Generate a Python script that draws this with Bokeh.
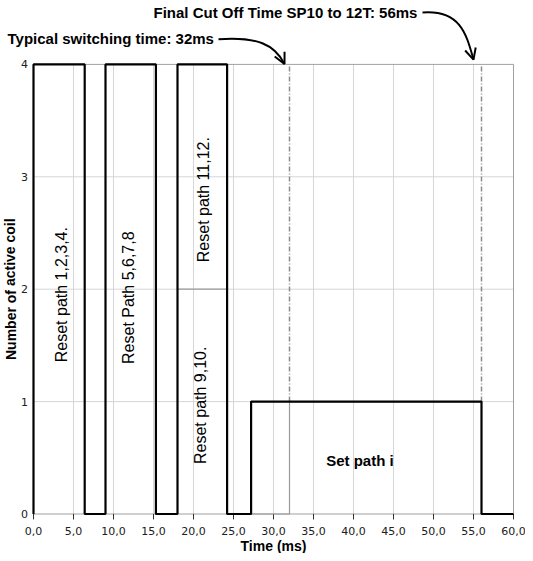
from bokeh.plotting import figure
from bokeh.models import Range1d, Label, Arrow, OpenHead
from bokeh.embed import file_html
from bokeh.resources import INLINE
from bokeh.core.properties import value

# ---- data ----
edge_times = [0.0, 0.0, 6.4, 9.0, 15.3, 18.0, 24.2, 27.2, 56.0, 60.0]
coil_levels = [0, 4, 0, 4, 0, 4, 0, 1, 0, 0]
typical_times = [18.0, 24.2, 32.0, 56.0]
typical_levels = [2, 0, 1, 1]
cutoff_times = [32.0, 56.0]
cutoff_low = [1, 1]
cutoff_high = [4, 4]
x_ticks = [0, 5, 10, 15, 20, 25, 30, 35, 40, 45, 50, 55, 60]
x_tick_labels = ["0,0", "5,0", "10,0", "15,0", "20,0", "25,0", "30,0",
                 "35,0", "40,0", "45,0", "50,0", "55,0", "60,0"]
y_ticks = [0, 1, 2, 3, 4]
y_tick_labels = ["0", "1", "2", "3", "4"]

SANS = value("Liberation Sans")
TICKF = value("DejaVu Sans")

# frame fills the whole canvas; axes are drawn through the data scales
p = figure(width=525, height=553, output_backend="svg", toolbar_location=None,
           x_range=Range1d(-4.125, 61.5), y_range=Range1d(-0.3514, 4.5685),
           x_axis_type=None, y_axis_type=None, min_border=0)
p.outline_line_color = None
p.background_fill_color = "white"
p.border_fill_color = "white"
p.grid.visible = False

x0, x1 = x_ticks[0], x_ticks[-1]
y0, y1 = y_ticks[0], y_ticks[-1]
GRID = "#d6d6d6"
FRAME = "#a0a0a0"

# grid lines
p.segment(x0=x_ticks[1:-1], y0=y0, x1=x_ticks[1:-1], y1=y1, line_color=GRID, line_width=1)
p.segment(x0=x0, y0=y_ticks[1:-1], x1=x1, y1=y_ticks[1:-1], line_color=GRID, line_width=1)
# frame
p.quad(left=x0, right=x1, bottom=y0, top=y1, fill_color=None, line_color=FRAME, line_width=1)

# x ticks and labels
p.segment(x0=x_ticks, y0=y0, x1=x_ticks, y1=-0.048, line_color="#303030", line_width=1)
p.text(x=x_ticks, y=-0.147, text=x_tick_labels, text_align="center",
       text_baseline="middle", text_font=TICKF, text_font_size="11px", text_color="#202020")
# y tick labels
p.text(x=-0.69, y=y_ticks, text=y_tick_labels, text_align="right",
       text_baseline="middle", text_font=TICKF, text_font_size="11px", text_color="#202020")

# axis titles
p.add_layout(Label(x=(x0 + x1) / 2, y=-0.289, text="Time (ms)", text_align="center",
                   text_baseline="middle", text_font="Liberation Sans",
                   text_font_style="bold", text_font_size="14px", text_color="black"))
p.add_layout(Label(x=-2.875, y=(y0 + y1) / 2, text="Number of active coil", angle=1.5708,
                   text_align="center", text_baseline="middle", text_font="Liberation Sans",
                   text_font_style="bold", text_font_size="14px", text_color="black"))

# cut-off markers
p.segment(x0=cutoff_times, y0=cutoff_low, x1=cutoff_times, y1=cutoff_high,
          line_color="#8c8c8c", line_width=1.5, line_dash="5 2 1 2")

# typical (grey) trace and coil trace
p.step(typical_times, typical_levels, mode="after", line_color="#9a9a9a", line_width=1.2)
p.step(edge_times, coil_levels, mode="after", line_color="black", line_width=2.2)

# in-plot labels (rotated, anchored at their lower end)
for x, y, t in [(3.46, 1.35, "Reset path 1,2,3,4."),
                (11.9, 1.335, "Reset Path 5,6,7,8"),
                (21.2, 2.24, "Reset path 11,12."),
                (20.9, 0.445, "Reset path 9,10.")]:
    p.add_layout(Label(x=x, y=y, text=t, angle=1.5708, text_align="left",
                       text_baseline="middle", text_font="Liberation Sans",
                       text_font_size="16px", text_color="black"))
p.add_layout(Label(x=40.8, y=0.48, text="Set path i", text_align="center",
                   text_baseline="middle", text_font="Liberation Sans", text_font_style="bold",
                   text_font_size="15px", text_color="black"))

# annotations above the plot
p.add_layout(Label(x=-3.25, y=4.23, text="Typical switching time: 32ms",
                   text_align="left", text_baseline="middle", text_font="Liberation Sans",
                   text_font_style="bold", text_font_size="15px", text_color="black"))
p.add_layout(Label(x=15.0, y=4.46, text="Final Cut Off Time SP10  to 12T: 56ms",
                   text_align="left", text_baseline="middle", text_font="Liberation Sans",
                   text_font_style="bold", text_font_size="15px", text_color="black"))

# curved arrows
p.bezier(x0=[23.125, 48.625], y0=[4.224, 4.462], x1=[31.375, 55.0], y1=[4.004, 4.043],
         cx0=[28.0, 53.375], cy0=[4.248, 4.488], cx1=[30.125, 54.125], cy1=[4.177, 4.266],
         line_color="black", line_width=2)
for xs, ys, xe, ye in [(31.25, 4.022, 31.375, 4.004), (54.91, 4.065, 55.0, 4.043)]:
    p.add_layout(Arrow(x_start=xs, y_start=ys, x_end=xe, y_end=ye,
                       line_color="black", line_width=2,
                       end=OpenHead(size=11, line_color="black", line_width=2)))

open("out.html", "w").write(file_html(p, INLINE))
